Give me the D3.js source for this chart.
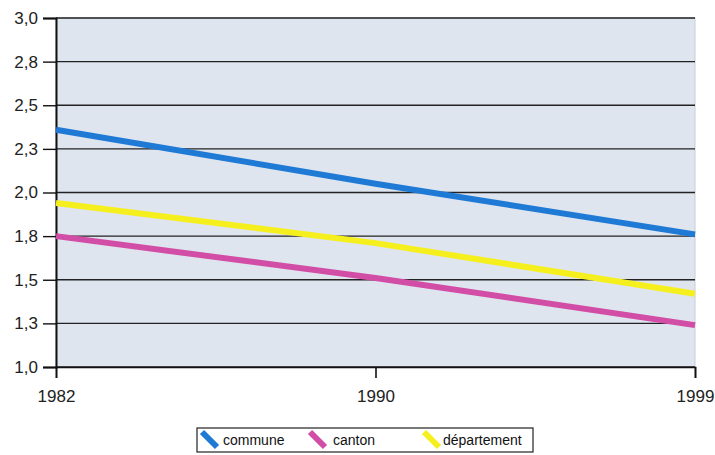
<!DOCTYPE html>
<html><head><meta charset="utf-8">
<script src="https://cdn.jsdelivr.net/npm/d3@7"></script>
<style>body{margin:0;background:#fff;}svg{display:block;font-family:"Liberation Sans",Arial,sans-serif;}</style>
</head><body>
<svg id="c" width="715" height="455"></svg>
<script>
const years = ["1982", "1990", "1999"];
const commune = [2.36, 2.05, 1.76];
const canton = [1.75, 1.51, 1.24];
const departement = [1.94, 1.71, 1.42];
const seriesNames = ["commune", "canton", "département"];
const seriesColors = ["#1f7ad6", "#d24ea6", "#f6ef1e"];
const yTicks = [1.0, 1.25, 1.5, 1.75, 2.0, 2.25, 2.5, 2.75, 3.0];

const series = [commune, canton, departement];
const svg = d3.select("#c");
const L = 56, R = 695, T = 18, B = 367;
const x = d3.scalePoint().domain(years).range([L, R]);
const y = d3.scaleLinear().domain([1, 3]).range([B, T]);

svg.append("rect").attr("x", L).attr("y", T).attr("width", R - L).attr("height", B - T)
  .attr("fill", "#dfe5ef").attr("stroke", "#c8ccd4").attr("stroke-width", 1);

const fmt = v => v.toFixed(1).replace(".", ",");
svg.append("g").selectAll("line").data(yTicks).join("line")
  .attr("x1", L).attr("x2", R).attr("y1", d => y(d)).attr("y2", d => y(d))
  .attr("stroke", "#222").attr("stroke-width", 1.4);

const ya = svg.append("g").attr("transform", `translate(${L},0)`)
  .call(d3.axisLeft(y).tickValues(yTicks).tickFormat(fmt).tickSize(13).tickPadding(5));
ya.select(".domain").attr("stroke", "#111").attr("stroke-width", 2);
ya.selectAll(".tick line").attr("stroke", "#111").attr("stroke-width", 1.4);
ya.selectAll("text").style("font-size", "17px").attr("fill", "#222").style("font-family", "Liberation Sans, Arial, sans-serif");

const xa = svg.append("g").attr("transform", `translate(0,${B})`)
  .call(d3.axisBottom(x).tickSize(11).tickPadding(12));
xa.select(".domain").attr("stroke", "#111").attr("stroke-width", 1.6);
xa.selectAll(".tick line").attr("stroke", "#111").attr("stroke-width", 1.6);
xa.selectAll("text").style("font-size", "17px").attr("fill", "#222").style("font-family", "Liberation Sans, Arial, sans-serif");

const line = d3.line().x((d, i) => x(years[i])).y(d => y(d));
series.forEach((s, k) => {
  svg.append("path").datum(s).attr("d", line).attr("fill", "none")
    .attr("stroke", seriesColors[k]).attr("stroke-width", 6);
});

const lg = svg.append("g");
lg.append("rect").attr("x", 197).attr("y", 428).attr("width", 336).attr("height", 24)
  .attr("fill", "#fff").attr("stroke", "#222").attr("stroke-width", 1.2);
const lx = [202, 310, 424];
const tx = [223, 333, 443];
seriesNames.forEach((n, k) => {
  lg.append("line").attr("x1", lx[k]).attr("y1", 432).attr("x2", lx[k] + 15).attr("y2", 447)
    .attr("stroke", seriesColors[k]).attr("stroke-width", 6);
  lg.append("text").attr("x", tx[k]).attr("y", 445).style("font-size", "14px").attr("fill", "#111").text(n);
});
</script>
</body></html>
